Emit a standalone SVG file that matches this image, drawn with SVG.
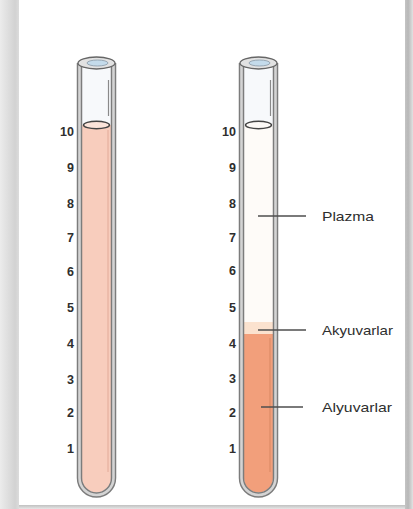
<svg xmlns="http://www.w3.org/2000/svg" width="413" height="509" viewBox="0 0 413 509">
  <defs>
    <linearGradient id="shadeLeft" x1="0" y1="0" x2="1" y2="0">
      <stop offset="0" stop-color="#ececec"/>
      <stop offset="0.8" stop-color="#d2d2d2"/>
      <stop offset="1" stop-color="#dcdcdc"/>
    </linearGradient>
    <linearGradient id="shadeRight" x1="0" y1="0" x2="1" y2="0">
      <stop offset="0" stop-color="#c4c4c4"/>
      <stop offset="0.4" stop-color="#b8b8b8"/>
      <stop offset="1" stop-color="#e2e2e2"/>
    </linearGradient>
    <linearGradient id="shadeBottom" x1="0" y1="0" x2="0" y2="1">
      <stop offset="0" stop-color="#c0c0c0"/>
      <stop offset="1" stop-color="#e6e6e6"/>
    </linearGradient>
    <!-- glass tube: double wall, rounded bottom, open rim -->
    <g id="glass">
      <path class="wall-outer" d="M79.5 63 V478 A17 17 0 0 0 113.5 478 V63"/>
      <path class="wall-inner" d="M79.5 63 V478 A17 17 0 0 0 113.5 478 V63"/>
      <line class="glint" x1="108.5" y1="80" x2="108.5" y2="116"/>
      <ellipse class="rim" cx="96.5" cy="63" rx="18.5" ry="6"/>
      <ellipse class="rim-hole" cx="97.5" cy="63" rx="10.5" ry="3"/>
    </g>
  </defs>
  <style>
    .wall-outer { fill: none; stroke: #7c7c7c; stroke-width: 5.5; }
    .wall-inner { fill: none; stroke: #d4d4d4; stroke-width: 2.6; }
    .glint { stroke: #8a8a8a; stroke-width: 1.2; }
    .rim { fill: #e2e2e2; stroke: #666; stroke-width: 1.3; }
    .rim-hole { fill: #c4dbeb; stroke: #8898a6; stroke-width: 0.8; }
    .meniscus { stroke: #444; stroke-width: 1.4; }
    .num { font-family: "Liberation Sans", Arial, sans-serif; font-size: 12.5px; font-weight: bold; fill: #2e2e2e; text-anchor: end; }
    .lbl { font-family: "Liberation Sans", Arial, sans-serif; font-size: 13px; fill: #2e2e2e; }
    .leader { stroke: #4e4e4e; stroke-width: 1.4; }
  </style>

  <!-- page -->
  <rect width="413" height="509" fill="#ffffff"/>
  <rect x="0" y="0" width="19" height="509" fill="url(#shadeLeft)"/>
  <rect x="405" y="0" width="8" height="509" fill="url(#shadeRight)"/>
  <rect x="19" y="505" width="386" height="4" fill="url(#shadeBottom)"/>

  <!-- whole blood tube -->
  <g id="tube-whole">
    <path d="M82 63 V478 A14.5 14.5 0 0 0 111 478 V63 Z" fill="#f7f9fb"/>
    <path d="M82 125 V478 A14.5 14.5 0 0 0 111 478 V125 Z" fill="#f8cdbd"/>
    <line x1="108" y1="130" x2="108" y2="472" stroke="#e2aa98" stroke-width="1"/>
    <use href="#glass"/>
    <ellipse class="meniscus" cx="96.5" cy="125" rx="13" ry="3.8" fill="#fbe4da"/>
  </g>

  <!-- centrifuged tube -->
  <g id="tube-separated" transform="translate(162 0)">
    <path d="M82 63 V478 A14.5 14.5 0 0 0 111 478 V63 Z" fill="#f7f9fb"/>
    <path d="M82 125 V322 H111 V125 Z" fill="#fefbf8"/>
    <rect x="82" y="322" width="29" height="12" fill="#fbe2cf"/>
    <path d="M82 334 V478 A14.5 14.5 0 0 0 111 478 V334 Z" fill="#f29f7b"/>
    <line x1="108" y1="338" x2="108" y2="472" stroke="#d88763" stroke-width="1"/>
    <use href="#glass"/>
    <ellipse class="meniscus" cx="96.5" cy="125" rx="13" ry="3.8" fill="#fcf9f6"/>
  </g>

  <!-- graduation numbers -->
  <g id="scale-left">
    <text class="num" x="74" y="135.5">10</text>
    <text class="num" x="74" y="171.5">9</text>
    <text class="num" x="74" y="207.5">8</text>
    <text class="num" x="74" y="241.5">7</text>
    <text class="num" x="74" y="275.5">6</text>
    <text class="num" x="74" y="311.5">5</text>
    <text class="num" x="74" y="347.5">4</text>
    <text class="num" x="74" y="383.5">3</text>
    <text class="num" x="74" y="416.5">2</text>
    <text class="num" x="74" y="452.5">1</text>
  </g>
  <g id="scale-right">
    <text class="num" x="236" y="136">10</text>
    <text class="num" x="236" y="171.5">9</text>
    <text class="num" x="236" y="207.5">8</text>
    <text class="num" x="236" y="241.5">7</text>
    <text class="num" x="236" y="274.5">6</text>
    <text class="num" x="236" y="312">5</text>
    <text class="num" x="236" y="347.5">4</text>
    <text class="num" x="236" y="382.5">3</text>
    <text class="num" x="236" y="416.5">2</text>
    <text class="num" x="236" y="452.5">1</text>
  </g>

  <!-- leader lines -->
  <g id="connectors">
    <line class="leader" x1="258" y1="216" x2="306" y2="216"/>
    <line class="leader" x1="258" y1="330" x2="306" y2="330"/>
    <line class="leader" x1="261" y1="407" x2="303" y2="407"/>
  </g>

  <!-- layer labels -->
  <g id="label-plazma"><text class="lbl" x="322" y="220.5" textLength="52" lengthAdjust="spacingAndGlyphs">Plazma</text></g>
  <g id="label-akyuvarlar"><text class="lbl" x="322" y="334.5" textLength="71" lengthAdjust="spacingAndGlyphs">Akyuvarlar</text></g>
  <g id="label-alyuvarlar"><text class="lbl" x="322" y="411.5" textLength="70" lengthAdjust="spacingAndGlyphs">Alyuvarlar</text></g>
</svg>
